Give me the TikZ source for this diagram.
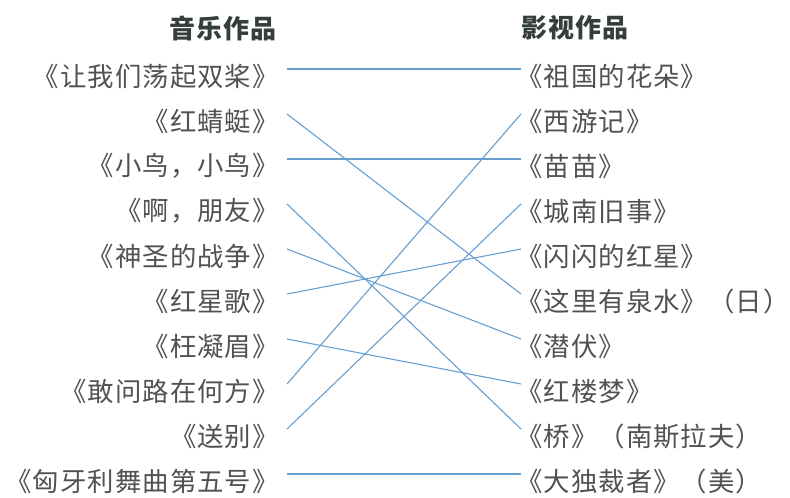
\documentclass[tikz,border=0pt]{standalone}
\usepackage{fontspec}
\newfontfamily\cjk[LetterSpace=4]{Noto Sans CJK SC}
\definecolor{trait}{RGB}{104,158,208}
\definecolor{encre}{RGB}{80,82,82}
\definecolor{entete}{RGB}{52,62,58}

\begin{document}
\begin{tikzpicture}[x=1pt,y=-1pt,
    entete/.style={font=\cjk\bfseries\fontsize{26}{26}\selectfont, text=entete},
    oeuvre/.style={font=\cjk\fontsize{26.4}{26.4}\selectfont, text=encre, inner xsep=0pt},
    lien/.style={trait, line width=1.1pt}]
    \useasboundingbox (0,0) rectangle (790,498);

    % Titres des deux colonnes
    \node[entete] (TG) at (223,28) {音乐作品};
    \node[entete] (TD) at (575,28) {影视作品};

    % Colonne de gauche : oeuvres musicales
    \foreach \i/\t in {1/《让我们荡起双桨》,2/《红蜻蜓》,3/《小鸟，小鸟》,4/《啊，朋友》,5/《神圣的战争》,
                        6/《红星歌》,7/《枉凝眉》,8/《敢问路在何方》,9/《送别》,10/《匈牙利舞曲第五号》} {
        \node[oeuvre, anchor=east] (G\i) at (279,{76+45*(\i-1)}) {\t};
    }

    % Colonne de droite : oeuvres de cinema
    \foreach \i/\t in {1/《祖国的花朵》,2/《西游记》,3/《苗苗》,4/《城南旧事》,5/《闪闪的红星》,
                        6/《这里有泉水》（日）,7/《潜伏》,8/《红楼梦》,9/《桥》（南斯拉夫）,10/《大独裁者》（美）} {
        \node[oeuvre, anchor=west] (D\i) at (516,{76+45*(\i-1)}) {\t};
    }

    % Relier chaque chanson a son film
    \foreach \a/\b in {1/1,2/6,3/3,4/9,5/7,6/5,7/8,8/2,9/4,10/10} {
        \draw[lien] ([xshift=8pt,yshift=7pt]G\a.east) -- ([xshift=5pt,yshift=7pt]D\b.west);
    }
\end{tikzpicture}
\end{document}
